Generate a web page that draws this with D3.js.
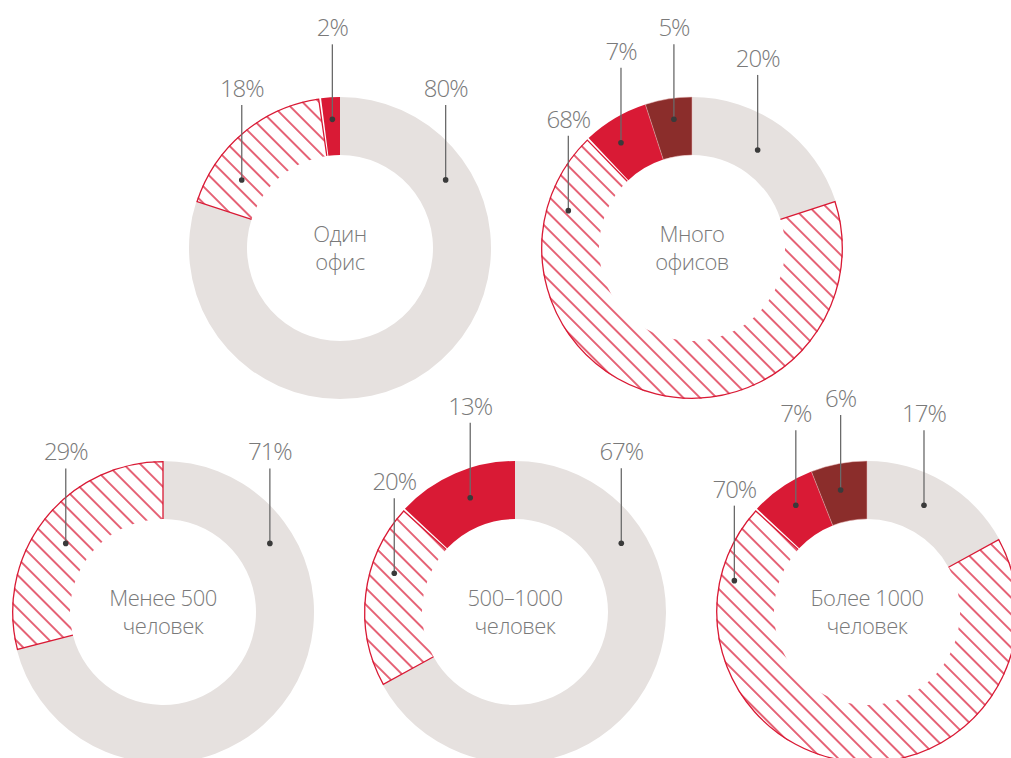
<!DOCTYPE html>
<html>
<head>
<meta charset="utf-8">
<script src="https://cdn.jsdelivr.net/npm/d3@7/dist/d3.min.js"></script>
<style>
  html, body { margin: 0; padding: 0; background: #fff; }
  svg { display: block; }
  text { font-family: "Open Sans", sans-serif; font-weight: 300; fill: #7a7a7a; }
</style>
</head>
<body>
<svg id="chart" width="1011" height="758"></svg>
<script>
// Donut titles (two lines each)
const titles = [
  ["Один", "офис"],
  ["Много", "офисов"],
  ["Менее 500", "человек"],
  ["500–1000", "человек"],
  ["Более 1000", "человек"]
];

// Segment kinds, clockwise from 12 o'clock
const kinds = ["other", "hatched", "red", "dark"];

// Shares, %
const shareOther   = [80, 20, 71, 67, 17];
const shareHatched = [18, 68, 29, 20, 70];
const shareRed     = [2, 7, 0, 13, 7];
const shareDark    = [0, 5, 0, 0, 6];

// ---- layout ----
const outerR = 151, innerR = 93;
const centers = [[340, 248], [692, 248], [163, 612], [515, 612], [867, 612]];
// leader dot placement per segment: [angle in degrees from 12 o'clock, radius]
const leaders = [
  [[57.2, 125.7], [-55.3, 119.5], [-3.4, 128.9], null],
  [[33.8, 118], [-73.2, 129.2], [-34.0, 127], [-8.0, 130]],
  [[57.3, 127], [-54.8, 119], null, null],
  [[57.1, 126.6], [-72.2, 126.8], [-21.4, 122.7], null],
  [[28.1, 121], [-76.7, 136.3], [-33.7, 128.3], [-12.2, 124.8]]
];
const colors = { other: "#e6e1df", hatched: "#d91a35", red: "#d91a35", dark: "#8b2d2b" };
const lineColor = "#6a6a6a", dotColor = "#3a3a3a";

const svg = d3.select("#chart");
const defs = svg.append("defs");

// diagonal hatch
const pat = defs.append("pattern")
  .attr("id", "hatch")
  .attr("patternUnits", "userSpaceOnUse")
  .attr("width", 11.8).attr("height", 11.8)
  .attr("patternTransform", "rotate(45)");
pat.append("line")
  .attr("x1", -1).attr("x2", 13).attr("y1", 5.9).attr("y2", 5.9)
  .attr("stroke", colors.hatched).attr("stroke-width", 1.35);

const pie = d3.pie().sort(null).value(d => d.value);
const arc = d3.arc().innerRadius(innerR).outerRadius(outerR);

titles.forEach((title, i) => {
  const values = [shareOther[i], shareHatched[i], shareRed[i], shareDark[i]];
  const data = kinds.map((k, j) => ({ kind: k, value: values[j], leader: leaders[i][j] }));
  const arcs = pie(data).filter(a => a.data.value > 0);

  const g = svg.append("g").attr("transform", `translate(${centers[i][0]},${centers[i][1]})`);

  arcs.forEach((a, idx) => {
    if (a.data.kind === "hatched") {
      // gap on edges touching a solid red segment
      const prev = arcs[idx - 1], next = arcs[idx + 1];
      const gapPx = 2.5;
      const s = a.startAngle + (prev && prev.data.kind !== "other" ? gapPx / outerR : 0);
      const e = a.endAngle - (next && next.data.kind !== "other" ? gapPx / outerR : 0);
      const sub = { startAngle: s, endAngle: e };
      const clipId = `clip${i}`;
      defs.append("clipPath").attr("id", clipId)
        .append("path").attr("d", arc(sub));
      g.append("rect")
        .attr("x", -outerR - 2).attr("y", -outerR - 2)
        .attr("width", 2 * outerR + 4).attr("height", 2 * outerR + 4)
        .attr("fill", "url(#hatch)")
        .attr("clip-path", `url(#${clipId})`);
      // outline: radial edges and outer rim only
      const ro = outerR - 0.7;
      const p = d3.path();
      const pt = (r, ang) => [r * Math.sin(ang), -r * Math.cos(ang)];
      const [x0, y0] = pt(innerR, s), [x1, y1] = pt(ro, s), [x3, y3] = pt(innerR, e);
      p.moveTo(x0, y0);
      p.lineTo(x1, y1);
      p.arc(0, 0, ro, s - Math.PI / 2, e - Math.PI / 2, false);
      p.lineTo(x3, y3);
      g.append("path").attr("d", p.toString())
        .attr("fill", "none").attr("stroke", colors.hatched).attr("stroke-width", 1.3);
    } else {
      g.append("path").attr("d", arc(a))
        .attr("fill", colors[a.data.kind])
        .attr("stroke", a.data.kind === "dark" ? "#e9b9b9" : "none")
        .attr("stroke-width", 0.5);
    }
  });

  // leaders and value labels
  arcs.forEach(a => {
    const ld = a.data.leader;
    if (!ld) return;
    const ang = ld[0] * Math.PI / 180;
    const x = ld[1] * Math.sin(ang), y = -ld[1] * Math.cos(ang);
    g.append("line")
      .attr("x1", x).attr("x2", x).attr("y1", y).attr("y2", y - 75)
      .attr("stroke", lineColor).attr("stroke-width", 1.3);
    g.append("circle").attr("cx", x).attr("cy", y).attr("r", 2.8).attr("fill", dotColor);
    g.append("text")
      .attr("x", x).attr("y", y - 83)
      .attr("text-anchor", "middle")
      .attr("font-size", 24)
      .attr("letter-spacing", -1)
      .text(`${a.data.value}%`);
  });

  // centre title
  title.forEach((line, k) => {
    g.append("text")
      .attr("x", 0).attr("y", -6 + k * 28)
      .attr("text-anchor", "middle")
      .attr("font-size", 22)
      .attr("letter-spacing", -0.5)
      .text(line);
  });
});
</script>
</body>
</html>
